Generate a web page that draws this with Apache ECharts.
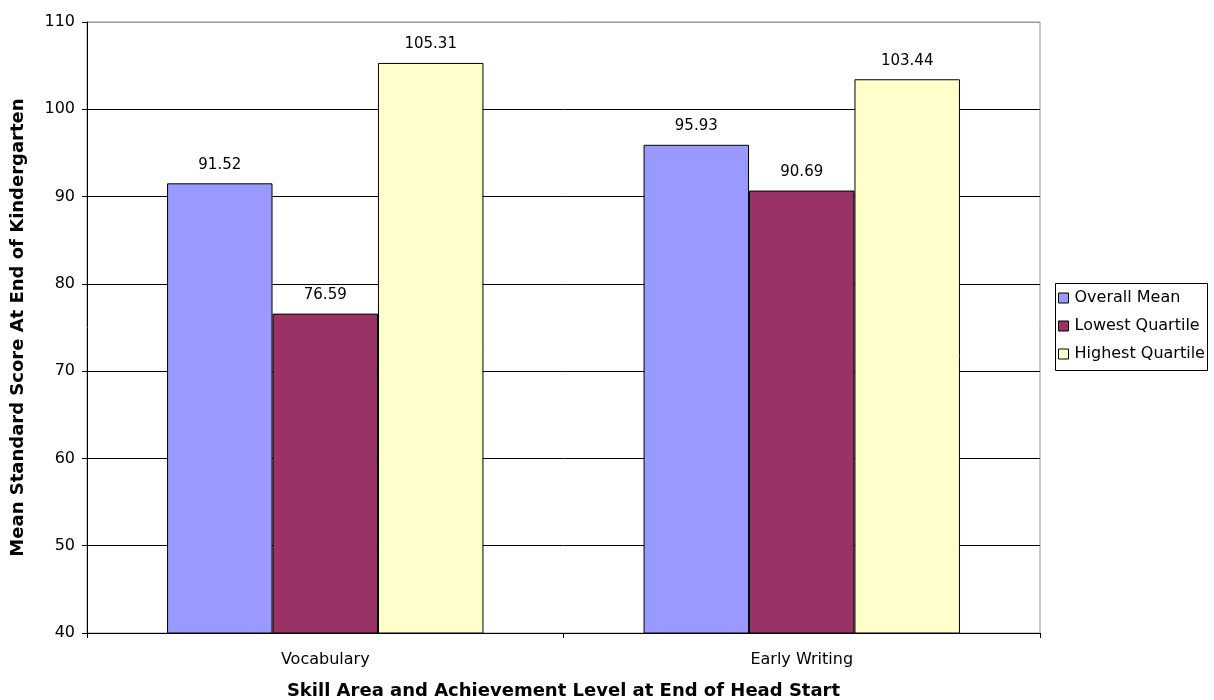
<!DOCTYPE html>
<html>
<head>
<meta charset="utf-8">
<script src="https://cdn.jsdelivr.net/npm/echarts@6/dist/echarts.min.js"></script>
<style>
html,body{margin:0;padding:0;background:#fff;}
#chart{width:1214px;height:700px;}
</style>
</head>
<body>
<div id="chart"></div>
<script>
const categories = ["Vocabulary", "Early Writing"];
const overallMean = [91.52, 95.93];
const lowestQuartile = [76.59, 90.69];
const highestQuartile = [105.31, 103.44];
const seriesNames = ["Overall Mean", "Lowest Quartile", "Highest Quartile"];
const yTicks = { min: 40, max: 110, interval: 10 };

const colors = ["#9999ff", "#993366", "#ffffcc"];
const font = "'DejaVu Sans', Verdana, sans-serif";

const chart = echarts.init(document.getElementById('chart'));
const mk = (name, data, color) => ({
  name: name,
  type: 'bar',
  data: data,
  barGap: '0%',
  barCategoryGap: '33.6%',
  itemStyle: { color: color, borderColor: '#000', borderWidth: 1 },
  label: {
    show: true, position: 'top', distance: 11,
    color: '#000', fontFamily: font, fontSize: 15,
    formatter: p => p.value.toFixed(2)
  }
});

chart.setOption({
  backgroundColor: '#fff',
  animation: false,
  grid: {
    left: 87, right: 174, top: 22, bottom: 67,
    containLabel: false,
    outerBoundsMode: 'none',
    show: true, borderColor: '#999', borderWidth: 1, backgroundColor: 'transparent'
  },
  graphic: [{
    type: 'rect', left: 1053, top: 281, z: 10,
    shape: { width: 152, height: 87 },
    style: { fill: 'none', stroke: '#000', lineWidth: 1 }
  }],
  legend: {
    orient: 'vertical',
    left: 1053, top: 283,
    padding: [7, 0, 5, 5],
    itemWidth: 10, itemHeight: 10, itemGap: 12,
    icon: 'rect',
    itemStyle: { borderColor: '#000', borderWidth: 1 },
    textStyle: { color: '#000', fontFamily: font, fontSize: 16, padding: [0, 0, 0, 1] },
    data: seriesNames
  },
  xAxis: {
    type: 'category',
    data: categories,
    name: 'Skill Area and Achievement Level at End of Head Start',
    nameLocation: 'middle',
    nameGap: 49,
    nameTextStyle: { color: '#000', fontFamily: font, fontSize: 18, fontWeight: 'bold' },
    axisLine: { show: true, lineStyle: { color: '#000', width: 1 } },
    axisTick: { show: true, length: 5, inside: false, lineStyle: { color: '#000' } },
    axisLabel: { color: '#000', fontFamily: font, fontSize: 16, margin: 19 }
  },
  yAxis: {
    type: 'value',
    min: yTicks.min, max: yTicks.max, interval: yTicks.interval,
    name: 'Mean Standard Score At End of Kindergarten',
    nameLocation: 'middle',
    nameGap: 60,
    nameTextStyle: { color: '#000', fontFamily: font, fontSize: 18, fontWeight: 'bold' },
    axisLine: { show: true, lineStyle: { color: '#000', width: 1 } },
    axisTick: { show: true, length: 5, lineStyle: { color: '#000' } },
    axisLabel: { color: '#000', fontFamily: font, fontSize: 16, margin: 12 },
    splitLine: { show: true, lineStyle: { color: ['#000','#000','#000','#000','#000','#000','#000','#999'], width: 1 } }
  },
  series: [
    mk(seriesNames[0], overallMean, colors[0]),
    mk(seriesNames[1], lowestQuartile, colors[1]),
    mk(seriesNames[2], highestQuartile, colors[2])
  ]
});
</script>
</body>
</html>
